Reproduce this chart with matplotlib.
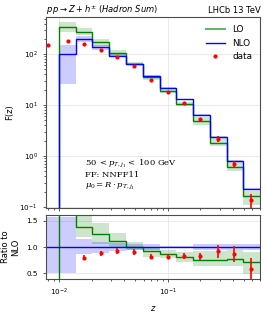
import numpy as np
import matplotlib.pyplot as plt
from matplotlib.lines import Line2D

# theory histogram bins (z)
z_edges = [0.01, 0.0143, 0.0202, 0.0289, 0.0417, 0.0593, 0.0845, 0.12, 0.17, 0.245, 0.35, 0.49, 0.72]

lo = [344, 275, 171, 105, 63, 35, 19.2, 10.6, 4.8, 1.82, 0.62, 0.163]
lo_low = [278, 235, 146, 94, 60, 31, 17.6, 9.4, 4.0, 1.56, 0.51, 0.111]
lo_high = [435, 320, 200, 119, 69, 38, 20.9, 11.7, 5.8, 2.23, 0.75, 0.203]

nlo = [100, 198, 137, 94, 63, 38, 22, 13, 6.3, 2.4, 0.8, 0.226]
nlo_low = [26, 172, 121, 87, 60, 36.5, 21.5, 12.6, 6.0, 2.28, 0.76, 0.215]
nlo_high = [154, 226, 151, 101, 66, 39.5, 22.5, 13.4, 6.6, 2.52, 0.84, 0.237]

# NLO band as shown in the ratio panel
ratio_edges = [0.007, 0.0143, 0.0202, 0.0289, 0.0417, 0.0593, 0.0845, 0.12, 0.17, 0.245, 0.35, 0.49, 0.72]
ratio_nlo_low = [0.51, 0.86, 0.88, 0.92, 0.95, 0.95, 0.975, 0.975, 0.94, 0.94, 0.94, 0.94]
ratio_nlo_high = [1.57, 1.15, 1.10, 1.07, 1.05, 1.05, 1.025, 1.025, 1.06, 1.06, 1.06, 1.06]

# LHCb data
z_data = [0.0079, 0.012, 0.017, 0.0242, 0.0344, 0.049, 0.070, 0.100, 0.142, 0.200, 0.287, 0.41, 0.58]
f_data = [151, 178, 158, 121, 87, 57.5, 31, 18, 10.8, 5.2, 2.2, 0.69, 0.134]
f_err = [9, 11, 10, 7, 5.7, 3.8, 1.9, 1.1, 0.65, 0.44, 0.31, 0.12, 0.046]

lo, lo_low, lo_high = np.array(lo), np.array(lo_low), np.array(lo_high)
nlo, nlo_low, nlo_high = np.array(nlo), np.array(nlo_low), np.array(nlo_high)
z_data, f_data, f_err = np.array(z_data), np.array(f_data), np.array(f_err)

fig = plt.figure(figsize=(2.67, 3.12), dpi=100)
ax1 = fig.add_axes([0.1723, 0.3349, 0.8026, 0.6097])
ax2 = fig.add_axes([0.1723, 0.1067, 0.8026, 0.2026], sharex=ax1)

for ax in (ax1, ax2):
    ax.set_xscale('log')
    ax.grid(True, which='major', color='0.9', lw=0.6)
    ax.set_axisbelow(True)
    ax.tick_params(which='both', labelsize=5.2, width=0.6, color='0.25')
    ax.tick_params(which='major', length=2.5)
    ax.tick_params(which='minor', length=1.5)
    for sp in ax.spines.values():
        sp.set_color('0.3')
        sp.set_linewidth(0.8)

# top panel
ax1.set_yscale('log')
ax1.stairs(lo_high, z_edges, baseline=lo_low, fill=True, color='green', alpha=0.2, lw=0)
ax1.stairs(nlo_high, z_edges, baseline=nlo_low, fill=True, color='blue', alpha=0.2, lw=0)
ax1.stairs(lo, z_edges, baseline=1e-3, color='green', lw=1)
ax1.stairs(nlo, z_edges, baseline=1e-3, color='blue', lw=1)
ax1.errorbar(z_data, f_data, yerr=f_err, fmt='none', ecolor='red', elinewidth=1.2)
ax1.plot(z_data, f_data, 'o', color='red', ms=3, mew=0)

ax1.set_xlim(0.0076, 0.71)
ax1.set_ylim(0.097, 530)
ax1.set_ylabel('F(z)', fontsize=6)
ax1.tick_params(labelbottom=False)
ax1.set_title(r'$p\,p \rightarrow Z + h^{\pm}$ $\it{(Hadron\ Sum)}$', loc='left', fontsize=6, pad=3)
ax1.set_title('LHCb 13 TeV', loc='right', fontsize=6, pad=3)

handles = [Line2D([], [], color='green', lw=1.5, alpha=0.6),
           Line2D([], [], color='blue', lw=1),
           Line2D([], [], color='red', marker='o', ms=3, mew=0, ls='none')]
ax1.legend(handles, ['LO', 'NLO', 'data'], loc='upper right', fontsize=6.4, frameon=False,
           handlelength=2.2)

ax1.text(0.18, 0.265, r'50 $< p_{T,j_1} <$ 100 GeV' + '\n' + 'FF: NNFF11' + '\n' + r'$\mu_0 = R \cdot p_{T,j_1}$',
         transform=ax1.transAxes, fontsize=6, va='top', ha='left', family='DejaVu Serif',
         math_fontfamily='dejavuserif', linespacing=1.3)

# ratio panel
ax2.stairs(lo_high / nlo, z_edges, baseline=lo_low / nlo, fill=True, color='green', alpha=0.2, lw=0)
ax2.stairs(ratio_nlo_high, ratio_edges, baseline=ratio_nlo_low, fill=True, color='blue', alpha=0.2, lw=0)
ax2.stairs(lo / nlo, z_edges, baseline=0, color='green', lw=1)
ax2.stairs(nlo / nlo, ratio_edges, baseline=None, color='blue', lw=1)
ax2.errorbar(z_data[1:], f_data[1:] / nlo, yerr=f_err[1:] / nlo, fmt='o', color='red',
             ms=3, mew=0, elinewidth=1.2)

ax2.set_ylim(0.4, 1.6)
ax2.set_yticks([0.5, 1.0, 1.5])
ax2.set_ylabel('Ratio to\nNLO', fontsize=6)
ax2.set_xlabel('$z$', fontsize=6)

fig.savefig('out.png', dpi=100)
